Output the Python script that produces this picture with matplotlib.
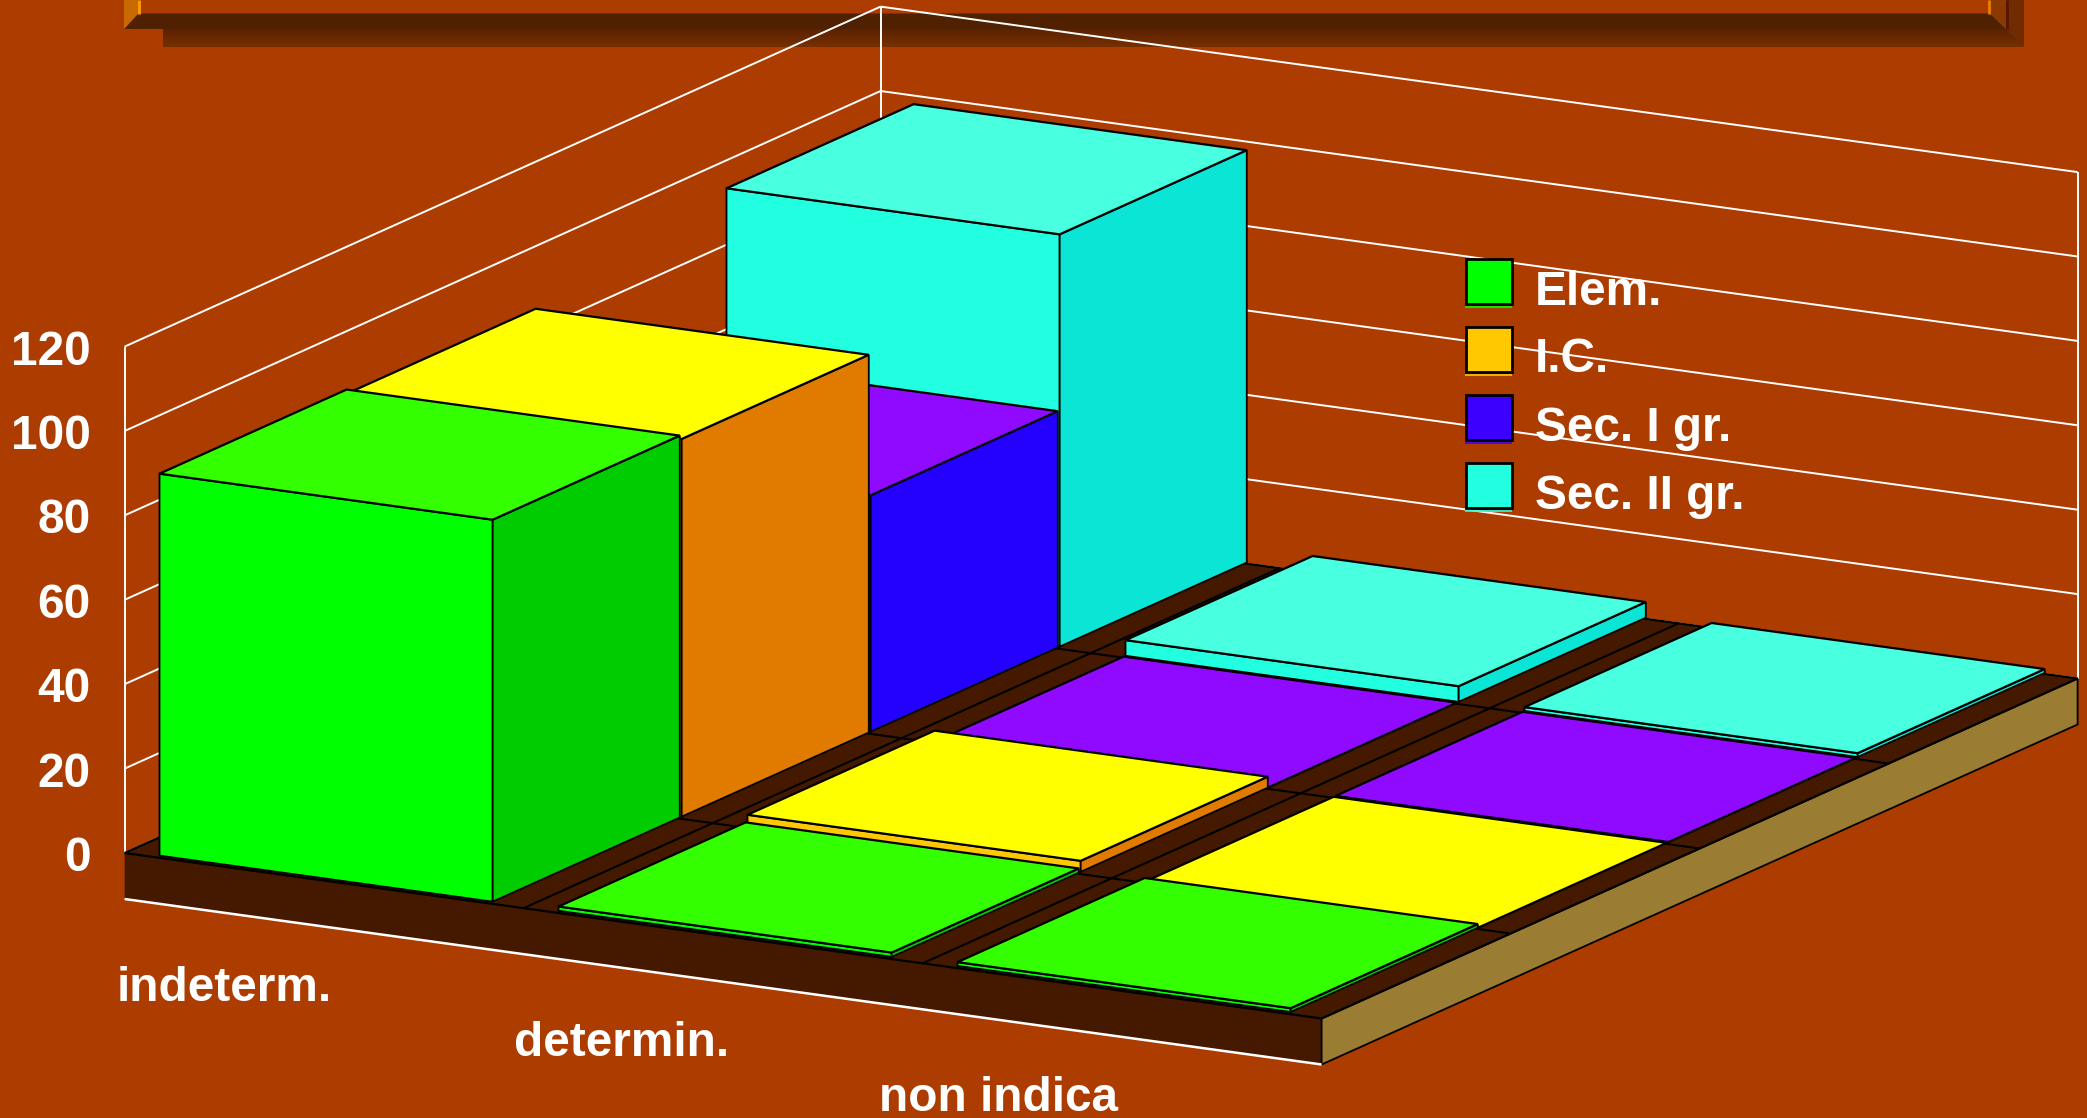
import numpy as np
import matplotlib
matplotlib.use("Agg")
import matplotlib.pyplot as plt
from matplotlib.patches import Polygon, Rectangle
from matplotlib.colors import LinearSegmentedColormap

categories = ["indeterm.", "determin.", "non indica"]
series_names = ["Elem.", "I.C.", "Sec. I gr.", "Sec. II gr."]
yticks = [0, 20, 40, 60, 80, 100, 120]

elem = [90.5, 1.0, 0.9]
ic = [89.5, 2.6, 0.0]
sec1 = [56.0, 0.0, 0.0]
sec2 = [97.7, 3.7, 0.9]
values = [elem, ic, sec1, sec2]

# front, top, side colour of each series
front_cols = ["#00FF00", "#FFC800", "#2800FF", "#22FFE0"]
top_cols = ["#33FF00", "#FFFF00", "#8F0AFF", "#48FFE0"]
side_cols = ["#00CC00", "#E07B00", "#2400FF", "#0BE5D5"]
legend_cols = ["#00FF00", "#FFC800", "#3C00FF", "#22FFE0"]

BG = "#AD3C00"
FLOOR = "#451900"
TAN = "#9A7D32"

# oblique projection of the chart box, in pixels
ORIGIN = np.array([124.6, 853.0])
CAT_VEC = np.array([1197.0, 165.5]) / 3
SER_VEC = np.array([756.0, -340.0]) / 4
PX_PER_UNIT = 4.22
BASE_H = 46


def project(cat, ser, val=0.0):
    p = ORIGIN + cat * CAT_VEC + ser * SER_VEC
    return (p[0], p[1] - val * PX_PER_UNIT)


fig = plt.figure(figsize=(20.87, 11.18), dpi=100, facecolor=BG)
ax = fig.add_axes([0, 0, 1, 1])
ax.set_xlim(0, 2087)
ax.set_ylim(1118, 0)
ax.axis("off")

font = dict(family="Liberation Sans", weight="bold", color="white", fontsize=34.4)


def poly(pts, fc, ec="black", lw=1.3, z=2):
    ax.add_patch(Polygon(pts, closed=True, fc=fc, ec=ec, lw=lw, joinstyle="miter", zorder=z))


def line(p0, p1, color="white", lw=1.4, z=1):
    ax.plot([p0[0], p1[0]], [p0[1], p1[1]], color=color, lw=lw, zorder=z, solid_capstyle="butt")


# title box remains at the top
shadow = LinearSegmentedColormap.from_list("shadow", ["#5A2200", "#762F00"])
ax.imshow(np.linspace(0, 1, 20).reshape(-1, 1), cmap=shadow, extent=[163, 2024, 47, 28],
          aspect="auto", zorder=0.5)
ax.set_xlim(0, 2087)
ax.set_ylim(1118, 0)
poly([(2006, 0), (2024, 0), (2024, 47), (2006, 29)], "#702C00", ec="none", z=0.6)
poly([(124, 29), (139, 13.5), (1990, 13.5), (2006, 29)], "#4F2100", ec="none", z=0.7)
poly([(124, 0), (138, 0), (138, 13.5), (124, 29)], "#C86A00", ec="none", z=0.7)
poly([(1990, 0), (2006, 0), (2006, 29), (1990, 13.5)], "#8A3A00", ec="none", z=0.7)
line((139, 0), (139, 13.5), color="#FFA000", lw=2.0, z=0.8)
line((1989, 0), (1989, 13.5), color="#E88000", lw=2.0, z=0.8)
line((2006.5, 0), (2006.5, 29), color="#5A1500", lw=2.0, z=0.8)

# walls
for v in yticks:
    line(project(0, 0, v), project(0, 4, v))
    line(project(0, 4, v), project(3, 4, v))
line(project(0, 0, 0), project(0, 0, 120))
line(project(0, 4, 0), project(0, 4, 120))
line(project(3, 4, 0), project(3, 4, 120))

# base of the chart
fl, fr, br, bl = project(0, 0), project(3, 0), project(3, 4), project(0, 4)
down = lambda p: (p[0], p[1] + BASE_H)
poly([fl, fr, down(fr), down(fl)], FLOOR, ec="none", z=1.5)
poly([fr, br, down(br), down(fr)], TAN, z=1.5)
poly([fl, fr, br, bl], FLOOR, lw=1.6, z=1.6)
line(down(fl), down(fr), lw=1.8, z=1.7)

# floor grid
for c in range(1, 3):
    line(project(c, 0), project(c, 4), color="black", lw=1.5, z=1.8)
for s in range(1, 4):
    line(project(0, s), project(3, s), color="black", lw=1.5, z=1.8)

# bars, back to front and left to right
for s in range(3, -1, -1):
    for c in range(3):
        val = values[s][c]
        c0, c1 = c + 0.078, c + 0.913
        s0, s1 = s + 0.02, s + 1.01
        if val > 0:
            poly([project(c0, s0, 0), project(c1, s0, 0), project(c1, s0, val), project(c0, s0, val)],
                 front_cols[s])
            poly([project(c1, s0, 0), project(c1, s1, 0), project(c1, s1, val), project(c1, s0, val)],
                 side_cols[s])
        poly([project(c0, s0, val), project(c1, s0, val), project(c1, s1, val), project(c0, s1, val)],
             top_cols[s], lw=1.6)

# y tick labels
for v in yticks:
    ax.text(90.5, project(0, 0, v)[1] + 18, str(v), ha="right", va="baseline", zorder=5, **font)

# category labels
label_x = [116.7, 514, 879]
label_y = [1000.6, 1056.4, 1110.6]
for name, lx, ly in zip(categories, label_x, label_y):
    ax.text(lx, ly, name, ha="left", va="baseline", zorder=5, **font)

# legend
legend_y = [304.6, 372.5, 441, 509]
for name, col, ly in zip(series_names, legend_cols, legend_y):
    ax.add_patch(Rectangle((1465.5, ly - 46), 46, 45, fc=col, ec="black", lw=2.0, zorder=4))
    line((1465, ly + 2), (1512, ly + 2), color=col, lw=1.2, z=4)
    ax.text(1535, ly, name, ha="left", va="baseline", zorder=5, **font)

fig.savefig("out.png", dpi=100, facecolor=BG)
